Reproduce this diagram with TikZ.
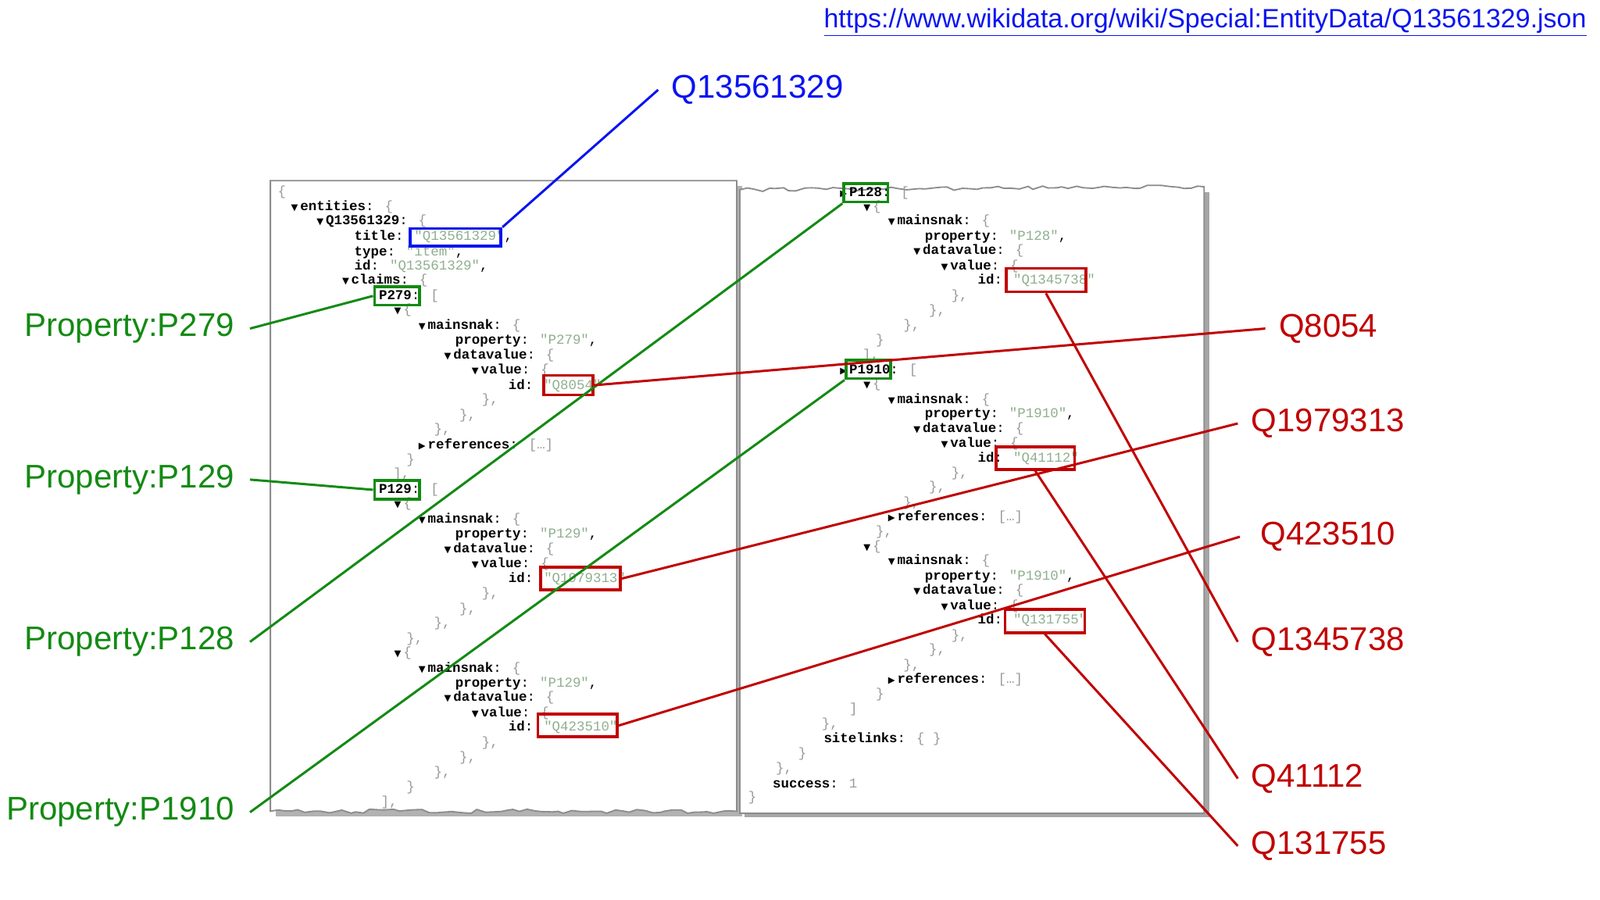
\documentclass[tikz,border=0pt]{standalone}
\usepackage{fontspec}
\setmainfont{Liberation Sans}
\newfontfamily\jmono{Liberation Mono}
\newfontfamily\tri{DejaVu Sans}
\usetikzlibrary{decorations.pathmorphing}
\definecolor{jred}{HTML}{C00000}
\definecolor{jgreen}{HTML}{138A13}
\definecolor{jblue}{HTML}{0A14F0}
\definecolor{jval}{HTML}{8FAF8F}
\definecolor{jpunct}{HTML}{999999}
\newcommand\jk[1]{\textbf{#1}}
\newcommand\jv[1]{\textcolor{jval}{#1}}
\newcommand\jp[1]{\textcolor{jpunct}{#1}}
\newcommand\dn{{\tri\fontsize{5}{5}\selectfont▼}\,}
\newcommand\rt{{\tri\fontsize{5}{5}\selectfont▶}\,}
\newcommand\jl[3]{\node[jl] at (#1,#2) {#3};}
\tikzset{
  jl/.style={anchor=west,inner sep=0pt,font=\jmono\fontsize{7.6}{8}\selectfont},
  box/.style={draw,line width=1.6pt,inner sep=0pt},
  gbox/.style={box,draw=jgreen},
  rbox/.style={box,draw=jred},
  glab/.style={text=jgreen,font=\fontsize{18.3}{20}\selectfont,inner sep=0pt},
  rlab/.style={text=jred,font=\fontsize{18.3}{20}\selectfont,inner sep=0pt},
  gline/.style={jgreen,line width=1.3pt},
  rline/.style={jred,line width=1.3pt},
  panel/.style={draw=black!45,line width=0.8pt,fill=white},
}
\begin{document}
\begin{tikzpicture}[x=0.02cm,y=-0.02cm]
\useasboundingbox (0,0) rectangle (1568,882);
% panels
\fill[black!30] (270,182) rectangle (727,800);
\draw[panel] (265,177) -- (722,177) -- (722,795)
  decorate[decoration={random steps,segment length=4pt,amplitude=1.2pt}]{-- (265,795)} -- cycle;
\fill[black!35] (730,188) rectangle (1185,801);
\draw[panel] (725,186) decorate[decoration={random steps,segment length=4pt,amplitude=1pt}]{-- (1180,183)}
  -- (1180,797) -- (725,797) -- cycle;
% left panel text
\jl{272}{188}{\jp{\{}}
\jl{285}{203}{\dn\jk{entities}: \jp{\{}}
\jl{310}{217}{\dn\jk{Q13561329}: \jp{\{}}
\jl{347}{232}{\jk{title}: \jv{"Q13561329"},}
\jl{347}{247}{\jk{type}: \jv{"item"},}
\jl{347}{261}{\jk{id}: \jv{"Q13561329"},}
\jl{335}{275}{\dn\jk{claims}: \jp{\{}}
\jl{371}{290}{\jk{P279}: \jp{[}}
\jl{386}{304}{\dn\jp{\{}}
\jl{410}{319}{\dn\jk{mainsnak}: \jp{\{}}
\jl{446}{334}{\jk{property}: \jv{"P279"},}
\jl{435}{348}{\dn\jk{datavalue}: \jp{\{}}
\jl{462}{363}{\dn\jk{value}: \jp{\{}}
\jl{498}{378}{\jk{id}: \jv{"Q8054"}}
\jl{472}{392}{\jp{\},}}
\jl{450}{407}{\jp{\},}}
\jl{425}{421}{\jp{\},}}
\jl{410}{436}{\rt\jk{references}: \jp{[…]}}
\jl{398}{451}{\jp{\}}}
\jl{385}{465}{\jp{],}}
\jl{371}{480}{\jk{P129}: \jp{[}}
\jl{386}{494}{\dn\jp{\{}}
\jl{410}{509}{\dn\jk{mainsnak}: \jp{\{}}
\jl{446}{524}{\jk{property}: \jv{"P129"},}
\jl{435}{538}{\dn\jk{datavalue}: \jp{\{}}
\jl{462}{553}{\dn\jk{value}: \jp{\{}}
\jl{498}{567}{\jk{id}: \jv{"Q1979313"}}
\jl{472}{582}{\jp{\},}}
\jl{450}{597}{\jp{\},}}
\jl{425}{611}{\jp{\},}}
\jl{398}{626}{\jp{\},}}
\jl{386}{640}{\dn\jp{\{}}
\jl{410}{655}{\dn\jk{mainsnak}: \jp{\{}}
\jl{446}{670}{\jk{property}: \jv{"P129"},}
\jl{435}{684}{\dn\jk{datavalue}: \jp{\{}}
\jl{462}{699}{\dn\jk{value}: \jp{\{}}
\jl{498}{713}{\jk{id}: \jv{"Q423510"}}
\jl{472}{728}{\jp{\},}}
\jl{450}{743}{\jp{\},}}
\jl{425}{757}{\jp{\},}}
\jl{398}{772}{\jp{\}}}
\jl{373}{786}{\jp{],}}
% right panel text
\jl{823}{189}{\rt\jk{P128}: \jp{[}}
\jl{846}{203}{\dn\jp{\{}}
\jl{870}{217}{\dn\jk{mainsnak}: \jp{\{}}
\jl{906}{232}{\jk{property}: \jv{"P128"},}
\jl{895}{246}{\dn\jk{datavalue}: \jp{\{}}
\jl{922}{261}{\dn\jk{value}: \jp{\{}}
\jl{958}{275}{\jk{id}: \jv{"Q1345738"}}
\jl{932}{290}{\jp{\},}}
\jl{910}{305}{\jp{\},}}
\jl{885}{319}{\jp{\},}}
\jl{858}{334}{\jp{\}}}
\jl{845}{348}{\jp{],}}
\jl{823}{363}{\rt\jk{P1910}: \jp{[}}
\jl{846}{377}{\dn\jp{\{}}
\jl{870}{392}{\dn\jk{mainsnak}: \jp{\{}}
\jl{906}{406}{\jk{property}: \jv{"P1910"},}
\jl{895}{420}{\dn\jk{datavalue}: \jp{\{}}
\jl{922}{435}{\dn\jk{value}: \jp{\{}}
\jl{958}{449}{\jk{id}: \jv{"Q41112"}}
\jl{932}{464}{\jp{\},}}
\jl{910}{478}{\jp{\},}}
\jl{885}{493}{\jp{\},}}
\jl{870}{507}{\rt\jk{references}: \jp{[…]}}
\jl{858}{521}{\jp{\},}}
\jl{846}{536}{\dn\jp{\{}}
\jl{870}{550}{\dn\jk{mainsnak}: \jp{\{}}
\jl{906}{565}{\jk{property}: \jv{"P1910"},}
\jl{895}{579}{\dn\jk{datavalue}: \jp{\{}}
\jl{922}{594}{\dn\jk{value}: \jp{\{}}
\jl{958}{608}{\jk{id}: \jv{"Q131755"}}
\jl{932}{623}{\jp{\},}}
\jl{910}{637}{\jp{\},}}
\jl{885}{652}{\jp{\},}}
\jl{870}{666}{\rt\jk{references}: \jp{[…]}}
\jl{858}{681}{\jp{\}}}
\jl{832}{695}{\jp{]}}
\jl{805}{710}{\jp{\},}}
\jl{807}{724}{\jk{sitelinks}: \jp{\{ \}}}
\jl{782}{739}{\jp{\}}}
\jl{760}{753}{\jp{\},}}
\jl{757}{768}{\jk{success}: \jp{1}}
\jl{733}{782}{\jp{\}}}
% boxes
\node[box,draw=jblue,minimum width=89*0.02cm,minimum height=17*0.02cm] (title) at (446.5,232.5) {};
\node[gbox,minimum width=44*0.02cm,minimum height=18*0.02cm] (p279) at (389,290) {};
\node[gbox,minimum width=44*0.02cm,minimum height=18*0.02cm] (p129) at (389,480) {};
\node[gbox,minimum width=43*0.02cm,minimum height=18*0.02cm] (p128) at (848.5,189) {};
\node[gbox,minimum width=44*0.02cm,minimum height=18*0.02cm] (p1910) at (851,362) {};
\node[rbox,minimum width=48*0.02cm,minimum height=19*0.02cm] (q8054) at (557,377.5) {};
\node[rbox,minimum width=78*0.02cm,minimum height=22*0.02cm] (q1979313) at (569,567) {};
\node[rbox,minimum width=78*0.02cm,minimum height=22*0.02cm] (q423510) at (566,711) {};
\node[rbox,minimum width=78*0.02cm,minimum height=23*0.02cm] (q1345738) at (1025,274.5) {};
\node[rbox,minimum width=77*0.02cm,minimum height=22*0.02cm] (q41112) at (1014.5,449) {};
\node[rbox,minimum width=78*0.02cm,minimum height=23*0.02cm] (q131755) at (1024,608.5) {};
% labels
\node[text=jblue,font=\fontsize{18.3}{20}\selectfont,inner sep=0pt,anchor=west] (lq) at (658,88) {Q13561329};
\node[glab,anchor=east] (l279) at (230,322) {Property:P279};
\node[glab,anchor=east] (l129) at (230,470) {Property:P129};
\node[glab,anchor=east] (l128) at (230,629) {Property:P128};
\node[glab,anchor=east] (l1910) at (230,796) {Property:P1910};
\node[rlab,anchor=west] (l8054) at (1253,322) {Q8054};
\node[rlab,anchor=west] (l1979313) at (1226,415) {Q1979313};
\node[rlab,anchor=west] (l423510) at (1235,526) {Q423510};
\node[rlab,anchor=west] (l1345738) at (1226,629) {Q1345738};
\node[rlab,anchor=west] (l41112) at (1226,763) {Q41112};
\node[rlab,anchor=west] (l131755) at (1226,829) {Q131755};
\node[text=jblue,font=\fontsize{14.8}{16}\selectfont,inner sep=0pt,anchor=east] (url) at (1555,22)
  {\underline{https://www.wikidata.org/wiki/Special:EntityData/Q13561329.json}};
% connectors
\draw[jblue,line width=1.3pt] (title.north east) -- ([xshift=-13*0.02cm]lq.west);
\draw[gline] ([xshift=15*0.02cm]l279.east) -- (p279.west);
\draw[gline] ([xshift=15*0.02cm]l129.east) -- (p129.west);
\draw[gline] ([xshift=15*0.02cm]l128.east) -- (p128.south west);
\draw[gline] ([xshift=15*0.02cm]l1910.east) -- (p1910.south west);
\draw[rline] (q8054.east) -- ([xshift=-13*0.02cm]l8054.west);
\draw[rline] (q1979313.east) -- ([xshift=-13*0.02cm]l1979313.west);
\draw[rline] (q423510.east) -- ([xshift=-20*0.02cm]l423510.west);
\draw[rline] (q1345738.south) -- ([xshift=-13*0.02cm]l1345738.west);
\draw[rline] (q41112.south) -- ([xshift=-13*0.02cm]l41112.west);
\draw[rline] (q131755.south) -- ([xshift=-13*0.02cm]l131755.west);
\end{tikzpicture}
\end{document}
